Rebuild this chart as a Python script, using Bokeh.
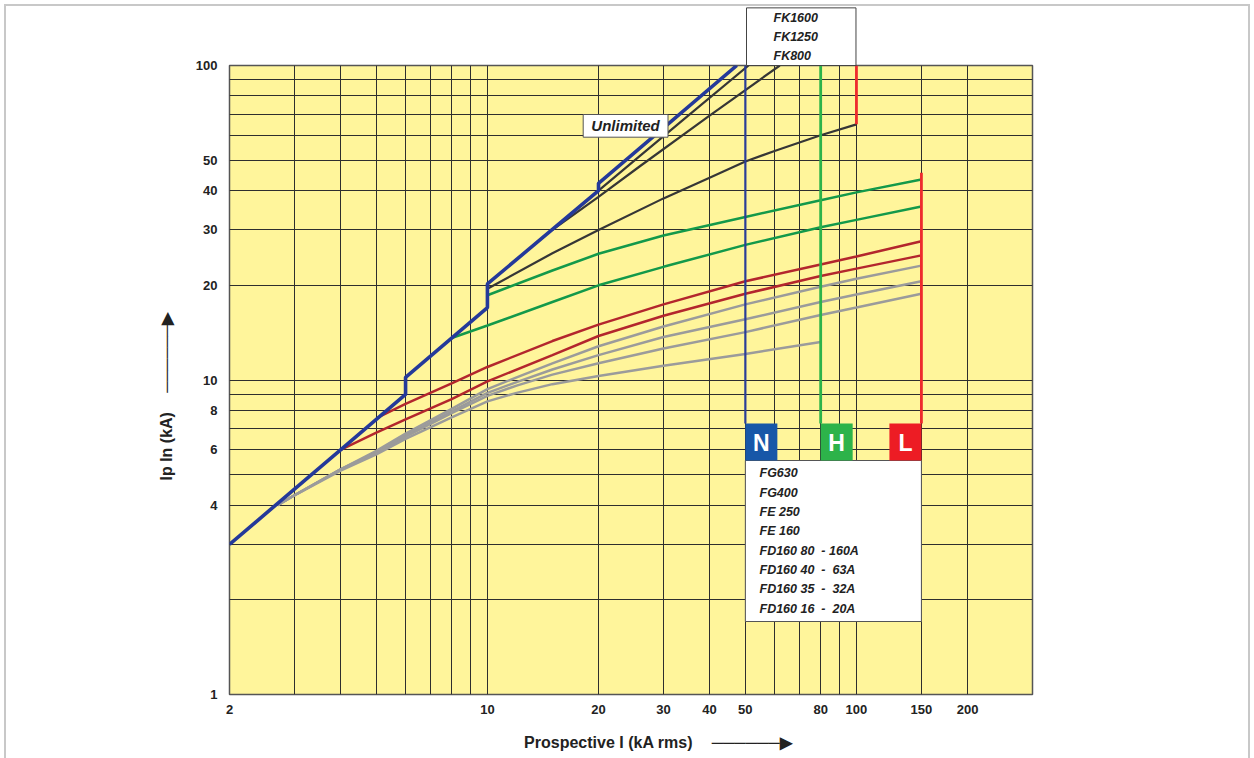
import math
from bokeh.plotting import figure
from bokeh.models import FixedTicker, CustomJSTickFormatter, Title
from bokeh.core.properties import value
from bokeh.embed import file_html
from bokeh.resources import INLINE

# ---------------- data ----------------
x_tick_values = [2, 10, 20, 30, 40, 50, 80, 100, 150, 200]
y_tick_values = [1, 4, 6, 8, 10, 20, 30, 40, 50, 100]
x_grid_values = [3, 4, 5, 6, 7, 8, 9, 10, 20, 30, 40, 50, 60, 70, 80, 90, 100, 150, 200]
y_grid_values = [2, 3, 4, 5, 6, 7, 8, 9, 10, 20, 30, 40, 50, 60, 70, 80, 90]

unlimited_x = [2, 4, 6, 6, 10, 10, 20, 20, 47.4]
unlimited_y = [3, 6, 9, 10.2, 17, 20.2, 40, 42.2, 100]

fk_a_x = [20, 26, 35, 51]
fk_a_y = [40, 51.8, 69.3, 100]
fk_b_x = [15, 20, 26, 40, 62]
fk_b_y = [30, 38.2, 48, 69.3, 100]
fk_c_x = [10, 15, 20, 30, 40, 50, 60, 80, 100]
fk_c_y = [19.5, 25.3, 30, 37.8, 44, 49.5, 53.5, 60, 65]

green_up_x = [10, 15, 20, 30, 50, 80, 100, 150]
green_up_y = [18.6, 22.3, 25.2, 28.8, 33.0, 37.3, 39.5, 43.4]
green_lo_x = [8, 10, 15, 20, 30, 50, 80, 100, 150]
green_lo_y = [13.6, 14.9, 17.7, 20.0, 22.9, 26.9, 30.6, 32.3, 35.6]

red_up_x = [5.1, 6, 8, 10, 15, 20, 30, 50, 80, 100, 150]
red_up_y = [7.65, 8.4, 9.75, 11.0, 13.3, 15.0, 17.4, 20.6, 23.3, 24.7, 27.6]
red_lo_x = [4, 5, 6, 8, 10, 15, 20, 30, 50, 80, 100, 150]
red_lo_y = [6, 6.8, 7.5, 8.7, 9.9, 12.0, 13.8, 16.0, 18.8, 21.4, 22.6, 24.9]

gray_x = [2.7, 3, 4, 5, 6, 8, 10, 12, 15, 20, 30, 50, 80, 100, 150]
gray_a_y = [4.0, 4.3, 5.2, 5.95, 6.75, 8.1, 9.35, 10.2, 11.3, 12.8, 14.8, 17.4, 19.8, 21.0, 23.1]
gray_b_y = [4.0, 4.3, 5.2, 5.9, 6.65, 7.95, 9.1, 9.85, 10.8, 12.0, 13.7, 15.6, 17.7, 18.7, 20.6]
gray_c_y = [4.0, 4.3, 5.2, 5.85, 6.6, 7.85, 8.9, 9.6, 10.4, 11.3, 12.6, 14.2, 16.1, 17.0, 18.8]
gray_d_x = [2.7, 3, 4, 5, 6, 8, 10, 12, 15, 20, 30, 50, 80]
gray_d_y = [4.0, 4.3, 5.15, 5.8, 6.5, 7.6, 8.55, 9.1, 9.7, 10.3, 11.1, 12.1, 13.2]

ratings = ["N", "H", "L"]
rating_ka = [50, 80, 150]
rating_line_top = [100, 100, 45.6]
fk_limit_ka = 100
fk_labels = ["FK1600", "FK1250", "FK800"]
legend_labels = ["FG630", "FG400", "FE 250", "FE 160",
                 "FD160 80\u00a0 - 160A", "FD160 40\u00a0 -\u00a0 63A",
                 "FD160 35\u00a0 -\u00a0 32A", "FD160 16\u00a0 -\u00a0 20A"]
x_title = "Prospective I (kA rms)"
y_title = "Ip In (kA)"

# ---------------- layout helpers (page pixel -> data coordinate) ----------------
W, H = 1254, 758
FL, FR, FT, FB = 229, 1032, 65, 694
XMIN, XMAX, YMIN, YMAX = 2, 300, 1, 100
PXD = (FR - FL) / math.log10(XMAX / XMIN)
PYD = (FB - FT) / math.log10(YMAX / YMIN)


def X(px):
    return XMIN * 10 ** ((px - FL) / PXD)


def Y(py):
    return YMIN * 10 ** ((FB - py) / PYD)


FONT = "Liberation Sans"
INK = "#222222"
ARROW = "\u2003\u2009" + "\u2500" * 6 + "\u25B6"
SHIFT = "\u2003\u2003\u2003\u2009\u2009"

G = "linear-gradient(#c8c8c8,#c8c8c8)"
page_frame = (f"{G} 4px 4px / 1246px 2px no-repeat, "
              f"{G} 4px 4px / 2px 760px no-repeat, "
              f"{G} 1248px 4px / 2px 760px no-repeat, white")

p = figure(width=W, height=H, x_axis_type="log", y_axis_type="log",
           x_range=(XMIN, XMAX), y_range=(YMIN, YMAX),
           output_backend="svg", toolbar_location=None, title_location=None,
           min_border_left=FL, min_border_right=W - FR,
           min_border_top=FT, min_border_bottom=H - FB,
           styles={"background": page_frame})
p.background_fill_color = "#fff59b"
p.border_fill_color = None
p.outline_line_color = "#555555"
p.outline_line_width = 1.5

p.xaxis.ticker = FixedTicker(ticks=x_tick_values)
p.yaxis.ticker = FixedTicker(ticks=y_tick_values)
for ax in (p.xaxis, p.yaxis):
    ax.formatter = CustomJSTickFormatter(code="return String(tick);")
    ax.major_tick_line_color = None
    ax.minor_tick_line_color = None
    ax.major_tick_out = 0
    ax.major_tick_in = 0
    ax.minor_tick_out = 0
    ax.axis_line_color = None
    ax.major_label_text_font = FONT
    ax.major_label_text_font_style = "bold"
    ax.major_label_text_font_size = "13px"
    ax.major_label_text_color = INK
p.xaxis.major_label_standoff = 10
p.yaxis.major_label_standoff = 12

# x title (with arrow) as the axis label, so that it stays inside the bottom border
p.xaxis.axis_label = SHIFT + x_title + ARROW
p.xaxis.axis_label_standoff = 17
p.xaxis.axis_label_text_font = FONT
p.xaxis.axis_label_text_font_style = "bold"
p.xaxis.axis_label_text_font_size = "16px"
p.xaxis.axis_label_text_color = INK

p.xgrid.ticker = FixedTicker(ticks=x_grid_values)
p.ygrid.ticker = FixedTicker(ticks=y_grid_values)
for g in (p.xgrid, p.ygrid):
    g.grid_line_color = "#2e2e2e"
    g.grid_line_width = 1
    g.minor_grid_line_color = None

# curves
GRAY, RED, GREEN, DARK, BLUE = "#9b9b9b", "#b3262d", "#13994a", "#363636", "#24399a"
for ys in (gray_a_y, gray_b_y, gray_c_y):
    p.line(gray_x, ys, line_color=GRAY, line_width=2.5)
p.line(gray_d_x, gray_d_y, line_color=GRAY, line_width=2.5)
p.line(red_up_x, red_up_y, line_color=RED, line_width=2.5)
p.line(red_lo_x, red_lo_y, line_color=RED, line_width=2.5)
p.line(green_up_x, green_up_y, line_color=GREEN, line_width=2.5)
p.line(green_lo_x, green_lo_y, line_color=GREEN, line_width=2.5)
p.line(fk_c_x, fk_c_y, line_color=DARK, line_width=2.2)
p.line(fk_b_x, fk_b_y, line_color=DARK, line_width=2.2)
p.line(fk_a_x, fk_a_y, line_color=DARK, line_width=2.2)

# breaking-capacity verticals
box_top = Y(423)
box_bot = Y(460)
line_cols = ["#2a3d98", "#2db34a", "#ee2a2d"]
box_cols = ["#1757a8", "#2db34a", "#ed1c24"]
p.segment(x0=rating_ka, x1=rating_ka, y0=[box_top] * 3, y1=rating_line_top,
          line_color=line_cols, line_width=[2.2, 2.8, 2.8])
p.segment(x0=[fk_limit_ka], x1=[fk_limit_ka], y0=[fk_c_y[-1]], y1=[YMAX],
          line_color="#ee2a2d", line_width=2.8)

p.line(unlimited_x, unlimited_y, line_color=BLUE, line_width=3.6)

# legend box and rating tags
ratio = 10 ** (32 / PXD)
tag_left = [rating_ka[0], rating_ka[1], rating_ka[2] / ratio]
tag_right = [rating_ka[0] * ratio, rating_ka[1] * ratio, rating_ka[2]]
p.quad(left=[rating_ka[0]], right=[rating_ka[2]], bottom=[Y(621)], top=[box_bot],
       fill_color="white", line_color="#555555", line_width=1)
p.quad(left=tag_left, right=tag_right, bottom=[box_bot] * 3, top=[box_top] * 3,
       fill_color=box_cols, line_color=None)
p.text(x=[math.sqrt(a * b) for a, b in zip(tag_left, tag_right)], y=[Y(442)] * 3,
       text=ratings, text_font=value(FONT), text_font_style="bold",
       text_font_size="23px", text_color="white", text_align="center",
       text_baseline="middle")
legend_rows = [472.7, 492, 511.3, 530.7, 550.3, 569.6, 588.9, 608.2]
p.text(x=[X(759)] * len(legend_labels), y=[Y(r) for r in legend_rows],
       text=legend_labels, text_font=value(FONT), text_font_style="bold italic",
       text_font_size="12.5px", text_color=INK, text_align="left",
       text_baseline="middle")

# Unlimited tag
p.quad(left=[X(582.7)], right=[X(667.5)], bottom=[Y(136.7)], top=[Y(114)],
       fill_color="white", line_color="#555555", line_width=1)
p.text(x=[X(625)], y=[Y(125)], text=["Unlimited"], text_font=value(FONT),
       text_font_style="bold italic", text_font_size="15px", text_color=INK,
       text_align="center", text_baseline="middle")

# FK tag above the frame (a boxed title)
fk_title = Title(text="\n".join(fk_labels), align="left", offset=746 - FL,
                 standoff=0, text_font=FONT, text_font_style="bold italic",
                 text_font_size="12.5px", text_color=INK, text_line_height=1.38,
                 background_fill_color="white", border_line_color="#444444",
                 border_line_width=1,
                 padding=dict(left=27, right=38, top=3, bottom=2))
p.add_layout(fk_title, "above")

# y title with arrow
p.add_layout(Title(text=y_title + ARROW, align="left", offset=FB - 480, standoff=36,
                   text_font=FONT, text_font_style="bold", text_font_size="16px",
                   text_color=INK), "left")

open("out.html", "w").write(file_html(p, INLINE))
